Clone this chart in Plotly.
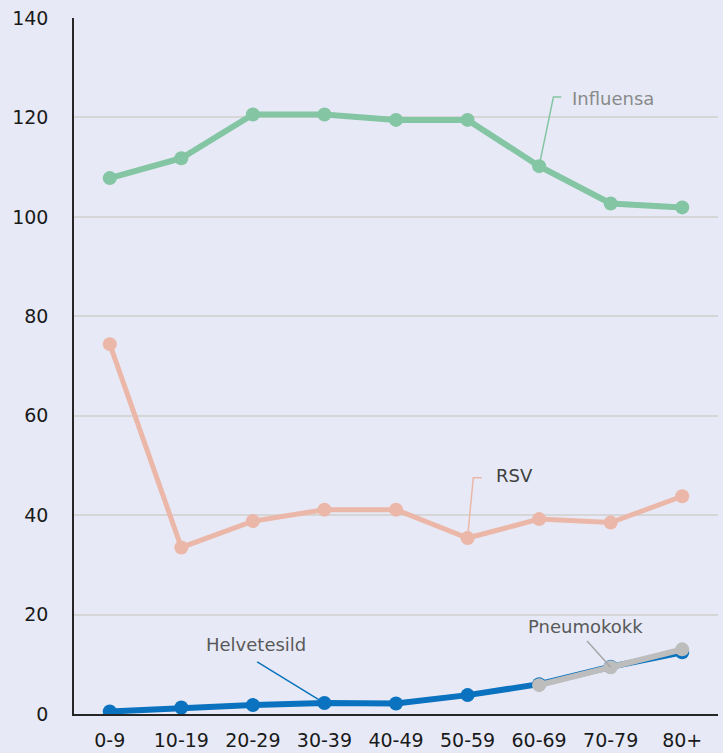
import plotly.graph_objects as go

categories = ["0-9", "10-19", "20-29", "30-39", "40-49", "50-59", "60-69", "70-79", "80+"]
influensa = [107.8, 111.8, 120.6, 120.6, 119.5, 119.5, 110.2, 102.7, 101.9]
rsv = [74.4, 33.5, 38.8, 41.1, 41.1, 35.4, 39.2, 38.5, 43.8]
helvetesild = [0.5, 1.3, 1.8, 2.2, 2.1, 3.8, 6.0, 9.5, 12.4]
pneumokokk = [None, None, None, None, None, None, 5.8, 9.4, 13.0]
y_ticks = [0, 20, 40, 60, 80, 100, 120, 140]

BG = "#E7EAF6"
FONT = "DejaVu Sans"

series = [
    ("Influensa", influensa, "#84C5A4", 6),
    ("RSV", rsv, "#EBB7A8", 5),
    ("Helvetesild", helvetesild, "#0A72BE", 6),
    ("Pneumokokk", pneumokokk, "#BDBDBD", 6),
]

xs = list(range(len(categories)))
fig = go.Figure()
for name, vals, color, w in series:
    fig.add_trace(go.Scatter(
        x=xs, y=vals, mode="lines+markers", name=name,
        line=dict(color=color, width=w),
        marker=dict(color=color, size=14),
        hoverinfo="skip",
    ))

annots = []
shapes = []

# Influensa: elbow leader
i = 6
y0 = influensa[i]
shapes.append(dict(type="path", xref="x", yref="y",
                   path=f"M {i} {y0} L {i+0.2} {y0+13.9} L {i+0.31} {y0+13.9}",
                   line=dict(color="#84C5A4", width=1.5)))
annots.append(dict(x=i + 0.43, y=y0 + 13.6, text="Influensa", xanchor="left",
                   font=dict(color="#8A8A8A", size=18)))

# RSV: elbow leader
i = 5
y0 = rsv[i]
shapes.append(dict(type="path", xref="x", yref="y",
                   path=f"M {i} {y0} L {i+0.08} {y0+12.1} L {i+0.2} {y0+12.1}",
                   line=dict(color="#EBB7A8", width=1.5)))
annots.append(dict(x=i + 0.37, y=y0 + 12.5, text="RSV", xanchor="left",
                   font=dict(color="#404040", size=18)))

# Helvetesild: straight leader
i = 3
y0 = helvetesild[i]
shapes.append(dict(type="line", xref="x", yref="y",
                   x0=i, y0=y0, x1=i - 0.94, y1=y0 + 8.3,
                   line=dict(color="#0A72BE", width=1.5)))
annots.append(dict(x=i - 0.96, y=y0 + 11.8, text="Helvetesild", xanchor="center",
                   font=dict(color="#595959", size=18)))

# Pneumokokk: straight leader
i = 7
y0 = pneumokokk[i]
shapes.append(dict(type="line", xref="x", yref="y",
                   x0=i, y0=y0, x1=i - 0.33, y1=y0 + 5.3,
                   line=dict(color="#A6A6A6", width=1.5)))
annots.append(dict(x=i - 0.35, y=y0 + 8.2, text="Pneumokokk", xanchor="center",
                   font=dict(color="#595959", size=18)))

for a in annots:
    a.update(xref="x", yref="y", showarrow=False, yanchor="middle")
    a["font"]["family"] = FONT

fig.update_layout(
    width=723, height=753,
    margin=dict(l=74, r=5, t=18, b=39),
    paper_bgcolor=BG, plot_bgcolor=BG,
    showlegend=False,
    font=dict(family=FONT, size=18, color="#1A1A1A"),
    shapes=shapes, annotations=annots,
)
fig.update_xaxes(
    range=[-0.5, len(categories) - 0.5],
    tickmode="array", tickvals=xs, ticktext=categories,
    showgrid=False, zeroline=False,
    showline=True, linecolor="#262626", linewidth=1.5,
    ticks="", ticklabelstandoff=8, automargin=False,
    tickfont=dict(size=19, color="#1A1A1A"),
)
fig.update_yaxes(
    range=[0, 140], tickmode="array", tickvals=y_ticks,
    showgrid=True, gridcolor="#D6D6D6", gridwidth=1.5,
    zeroline=False,
    showline=True, linecolor="#262626", linewidth=1.5,
    ticks="", ticklabelstandoff=20, automargin=False,
    tickfont=dict(size=19, color="#1A1A1A"),
)

post = ("document.body.style.margin='0';"
        "document.body.style.overflow='hidden';"
        f"document.body.style.background='{BG}';")
fig.write_html("out.html", post_script=post, config={"displayModeBar": False})
